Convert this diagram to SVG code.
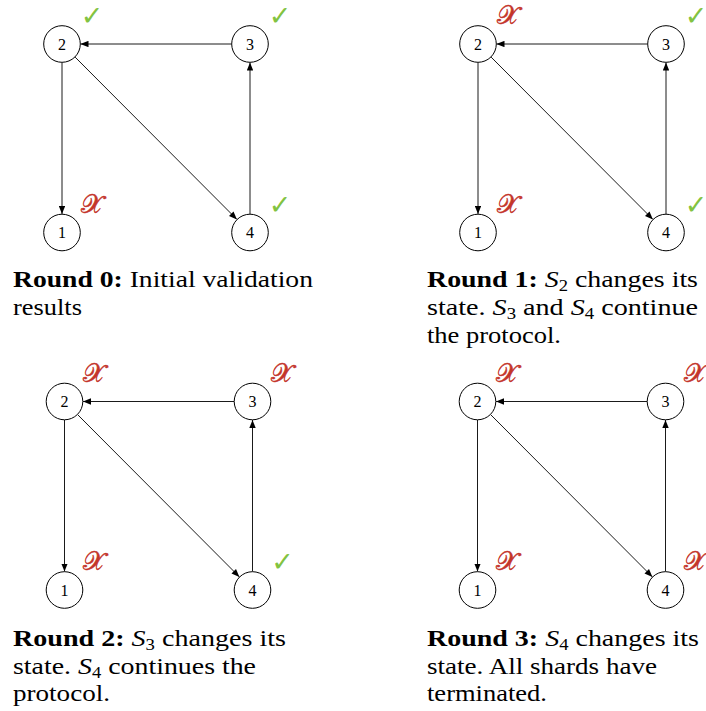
<svg xmlns="http://www.w3.org/2000/svg" width="706" height="711" viewBox="0 0 706 711">
<defs>
<style>
.node circle{fill:#fff;stroke:#000;stroke-width:1}
.lbl{font-family:"Liberation Serif",serif;font-size:16px;text-anchor:middle;fill:#000}
.edge{stroke:#000;stroke-width:0.9;fill:none;marker-end:url(#ah)}
.ok{font-family:"DejaVu Sans",sans-serif;font-size:27px;fill:#82c341;text-anchor:middle}
.no{font-family:"DejaVu Serif","DejaVu Sans",serif;font-size:26px;fill:#c4352b;stroke:#c4352b;stroke-width:0.5;text-anchor:middle}
.cap{font-family:"Liberation Serif",serif;font-size:24px;fill:#000}
.b{font-weight:bold}
.i{font-style:italic}
.sub{font-size:16px}
</style>
<marker id="ah" viewBox="0 0 10 8" refX="10" refY="4" markerWidth="8" markerHeight="6.4" markerUnits="userSpaceOnUse" orient="auto">
<path d="M0,0 L10,4 L0,8 Z" fill="#000"/>
</marker>
</defs>

<!-- Panel 1 -->
<g id="panel0" transform="translate(62,44)">
<g id="p0-edges">
<line class="edge" x1="169.5" y1="0" x2="18.5" y2="0"/>
<line class="edge" x1="0" y1="18.5" x2="0" y2="170"/>
<line class="edge" x1="188" y1="170" x2="188" y2="18.5"/>
<line class="edge" x1="13.1" y1="13.1" x2="174.9" y2="175.4"/>
</g>
<g id="p0-n1" class="node"><circle cx="0" cy="188.5" r="18.3"/><text class="lbl" x="0" y="194">1</text><text class="no" x="29.5" y="168.5">𝒳</text></g>
<g id="p0-n2" class="node"><circle cx="0" cy="0" r="18.3"/><text class="lbl" x="0" y="5.5">2</text><text class="ok" x="30" y="-19">✓</text></g>
<g id="p0-n3" class="node"><circle cx="188" cy="0" r="18.3"/><text class="lbl" x="188" y="5.5">3</text><text class="ok" x="218" y="-19">✓</text></g>
<g id="p0-n4" class="node"><circle cx="188" cy="188.5" r="18.3"/><text class="lbl" x="188" y="194">4</text><text class="ok" x="218" y="169.5">✓</text></g>
</g>

<!-- Panel 2 -->
<g id="panel1" transform="translate(478,44)">
<g id="p1-edges">
<line class="edge" x1="169.5" y1="0" x2="18.5" y2="0"/>
<line class="edge" x1="0" y1="18.5" x2="0" y2="170"/>
<line class="edge" x1="188" y1="170" x2="188" y2="18.5"/>
<line class="edge" x1="13.1" y1="13.1" x2="174.9" y2="175.4"/>
</g>
<g id="p1-n1" class="node"><circle cx="0" cy="188.5" r="18.3"/><text class="lbl" x="0" y="194">1</text><text class="no" x="29.5" y="168.5">𝒳</text></g>
<g id="p1-n2" class="node"><circle cx="0" cy="0" r="18.3"/><text class="lbl" x="0" y="5.5">2</text><text class="no" x="29.5" y="-20">𝒳</text></g>
<g id="p1-n3" class="node"><circle cx="188" cy="0" r="18.3"/><text class="lbl" x="188" y="5.5">3</text><text class="ok" x="218" y="-19">✓</text></g>
<g id="p1-n4" class="node"><circle cx="188" cy="188.5" r="18.3"/><text class="lbl" x="188" y="194">4</text><text class="ok" x="218" y="169.5">✓</text></g>
</g>

<!-- Panel 3 -->
<g id="panel2" transform="translate(64.5,401.5)">
<g id="p2-edges">
<line class="edge" x1="169.5" y1="0" x2="18.5" y2="0"/>
<line class="edge" x1="0" y1="18.5" x2="0" y2="170"/>
<line class="edge" x1="188" y1="170" x2="188" y2="18.5"/>
<line class="edge" x1="13.1" y1="13.1" x2="174.9" y2="175.4"/>
</g>
<g id="p2-n1" class="node"><circle cx="0" cy="188.5" r="18.3"/><text class="lbl" x="0" y="194">1</text><text class="no" x="29.5" y="168.5">𝒳</text></g>
<g id="p2-n2" class="node"><circle cx="0" cy="0" r="18.3"/><text class="lbl" x="0" y="5.5">2</text><text class="no" x="29.5" y="-20">𝒳</text></g>
<g id="p2-n3" class="node"><circle cx="188" cy="0" r="18.3"/><text class="lbl" x="188" y="5.5">3</text><text class="no" x="217.5" y="-20">𝒳</text></g>
<g id="p2-n4" class="node"><circle cx="188" cy="188.5" r="18.3"/><text class="lbl" x="188" y="194">4</text><text class="ok" x="218" y="169.5">✓</text></g>
</g>

<!-- Panel 4 -->
<g id="panel3" transform="translate(477.5,401.5)">
<g id="p3-edges">
<line class="edge" x1="169.5" y1="0" x2="18.5" y2="0"/>
<line class="edge" x1="0" y1="18.5" x2="0" y2="170"/>
<line class="edge" x1="188" y1="170" x2="188" y2="18.5"/>
<line class="edge" x1="13.1" y1="13.1" x2="174.9" y2="175.4"/>
</g>
<g id="p3-n1" class="node"><circle cx="0" cy="188.5" r="18.3"/><text class="lbl" x="0" y="194">1</text><text class="no" x="29.5" y="168.5">𝒳</text></g>
<g id="p3-n2" class="node"><circle cx="0" cy="0" r="18.3"/><text class="lbl" x="0" y="5.5">2</text><text class="no" x="29.5" y="-20">𝒳</text></g>
<g id="p3-n3" class="node"><circle cx="188" cy="0" r="18.3"/><text class="lbl" x="188" y="5.5">3</text><text class="no" x="217.5" y="-20">𝒳</text></g>
<g id="p3-n4" class="node"><circle cx="188" cy="188.5" r="18.3"/><text class="lbl" x="188" y="194">4</text><text class="no" x="217.5" y="168.5">𝒳</text></g>
</g>

<!-- Captions -->
<g id="caption0" class="cap">
<text x="13" y="287" textLength="300" lengthAdjust="spacingAndGlyphs"><tspan class="b">Round 0:</tspan> Initial validation</text>
<text x="13" y="315" textLength="69" lengthAdjust="spacingAndGlyphs">results</text>
</g>
<g id="caption1" class="cap">
<text x="427" y="287" textLength="271" lengthAdjust="spacingAndGlyphs"><tspan class="b">Round 1:</tspan> <tspan class="i">S</tspan><tspan class="sub" dy="4">2</tspan><tspan dy="-4"> changes its</tspan></text>
<text x="427" y="315" textLength="271" lengthAdjust="spacingAndGlyphs">state. <tspan class="i">S</tspan><tspan class="sub" dy="4">3</tspan><tspan dy="-4"> and </tspan><tspan class="i">S</tspan><tspan class="sub" dy="4">4</tspan><tspan dy="-4"> continue</tspan></text>
<text x="427" y="343" textLength="134" lengthAdjust="spacingAndGlyphs">the protocol.</text>
</g>
<g id="caption2" class="cap">
<text x="13" y="645.5" textLength="273" lengthAdjust="spacingAndGlyphs"><tspan class="b">Round 2:</tspan> <tspan class="i">S</tspan><tspan class="sub" dy="4">3</tspan><tspan dy="-4"> changes its</tspan></text>
<text x="13" y="673.5" textLength="243" lengthAdjust="spacingAndGlyphs">state. <tspan class="i">S</tspan><tspan class="sub" dy="4">4</tspan><tspan dy="-4"> continues the</tspan></text>
<text x="13" y="701" textLength="97" lengthAdjust="spacingAndGlyphs">protocol.</text>
</g>
<g id="caption3" class="cap">
<text x="427" y="645.5" textLength="272" lengthAdjust="spacingAndGlyphs"><tspan class="b">Round 3:</tspan> <tspan class="i">S</tspan><tspan class="sub" dy="4">4</tspan><tspan dy="-4"> changes its</tspan></text>
<text x="427" y="673.5" textLength="230" lengthAdjust="spacingAndGlyphs">state. All shards have</text>
<text x="427" y="701" textLength="120" lengthAdjust="spacingAndGlyphs">terminated.</text>
</g>
</svg>
